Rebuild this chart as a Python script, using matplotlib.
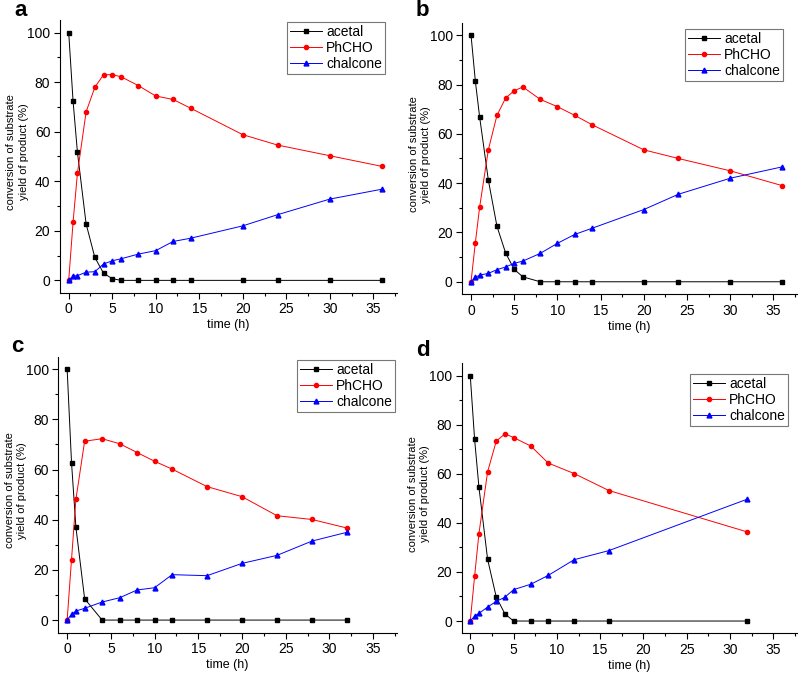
import matplotlib
matplotlib.use("Agg")
import matplotlib.pyplot as plt
from matplotlib.ticker import MultipleLocator

plt.rcParams['font.family'] = ['Liberation Sans', 'DejaVu Sans']

# panel a
time_a = [0, 0.5, 1, 2, 3, 4, 5, 6, 8, 10, 12, 14, 20, 24, 30, 36]
acetal_a = [100, 72.4, 51.8, 22.8, 9.3, 2.9, 0.7, 0, 0, 0, 0, 0, 0, 0, 0, 0]
phcho_a = [0, 23.4, 43.2, 68, 77.9, 83, 83, 82.2, 78.6, 74.4, 73, 69.5, 58.8, 54.6, 50.3, 46]
chalcone_a = [0, 1.7, 1.9, 3.3, 3.5, 6.6, 7.9, 8.7, 10.6, 12, 15.7, 17, 22, 26.5, 32.8, 36.8]

# panel b
time_b = [0, 0.5, 1, 2, 3, 4, 5, 6, 8, 10, 12, 14, 20, 24, 30, 36]
acetal_b = [100, 81.3, 66.7, 41.3, 22.5, 11.7, 5, 2, 0, 0, 0, 0, 0, 0, 0, 0]
phcho_b = [0, 15.9, 30.4, 53.5, 67.5, 74.5, 77.5, 79, 74, 71, 67.5, 63.7, 53.5, 50, 45, 39]
chalcone_b = [0, 1.8, 2.7, 3.4, 4.9, 6, 7.5, 8.4, 11.5, 15.6, 19.2, 21.7, 29.3, 35.5, 42, 46.6]

# panel c
time_c = [0, 0.5, 1, 2, 4, 6, 8, 10, 12, 16, 20, 24, 28, 32]
acetal_c = [100, 62.8, 37.1, 8.5, 0, 0, 0, 0, 0, 0, 0, 0, 0, 0]
phcho_c = [0, 24.1, 48.1, 71.3, 72.3, 70.3, 66.8, 63.3, 60.2, 53.2, 49.2, 41.6, 40.1, 36.7]
chalcone_c = [0, 2.3, 3.6, 4.7, 7.2, 8.9, 12, 12.9, 18.1, 17.7, 22.6, 25.8, 31.5, 35]

# panel d
time_d = [0, 0.5, 1, 2, 3, 4, 5, 7, 9, 12, 16, 32]
acetal_d = [100, 74.1, 54.6, 25.2, 9.8, 2.9, 0, 0, 0, 0, 0, 0]
phcho_d = [0, 18.2, 35.6, 60.8, 73.3, 76.3, 74.8, 71.3, 64.4, 60.1, 53.2, 36.3]
chalcone_d = [0, 2, 3.1, 5.7, 8, 9.7, 12.8, 15, 18.6, 25, 28.7, 49.7]

W, H = 800, 673

# letter, axes rect (fig fraction), letter pos (px), legend upper-right corner (px), data
panels = [
    ("a", [0.075, 0.565, 0.421, 0.405], (14, 10), (385, 22), time_a, acetal_a, phcho_a, chalcone_a),
    ("b", [0.578, 0.563, 0.418, 0.403], (416, 10), (783, 29), time_b, acetal_b, phcho_b, chalcone_b),
    ("c", [0.073, 0.060, 0.423, 0.410], (11, 347), (395, 360), time_c, acetal_c, phcho_c, chalcone_c),
    ("d", [0.577, 0.059, 0.419, 0.401], (416, 350), (788, 374), time_d, acetal_d, phcho_d, chalcone_d),
]

fig = plt.figure(figsize=(W / 100, H / 100), dpi=100)

for letter, rect, lpos, legpos, t, ac, ph, ch in panels:
    ax = fig.add_axes(rect)
    ax.plot(t, ac, color='black', lw=0.7, marker='s', ms=3, label='acetal')
    ax.plot(t, ph, color='red', lw=0.7, marker='o', ms=3, label='PhCHO')
    ax.plot(t, ch, color='blue', lw=0.7, marker='^', ms=3.5, label='chalcone')

    ax.set_xlim(-1, 37.7)
    ax.set_ylim(-5, 105)
    ax.xaxis.set_major_locator(MultipleLocator(5))
    ax.xaxis.set_minor_locator(MultipleLocator(2.5))
    ax.yaxis.set_major_locator(MultipleLocator(20))
    ax.yaxis.set_minor_locator(MultipleLocator(10))
    ax.tick_params(which='major', direction='out', length=4, width=0.8, labelsize=10, pad=3)
    ax.tick_params(which='minor', direction='out', length=2.5, width=0.8)
    ax.spines['top'].set_visible(False)
    ax.spines['right'].set_visible(False)

    ax.set_xlabel('time (h)', fontsize=9, labelpad=2)
    ax.set_ylabel('conversion of substrate\nyield of product (%)', fontsize=8,
                  linespacing=1.3)
    ax.yaxis.set_label_coords(-0.093, 0.516)

    leg = ax.legend(loc='upper right', fontsize=10, frameon=True, fancybox=False,
                    edgecolor='#555555', handlelength=2.3, handletextpad=0.3,
                    borderpad=0.2, labelspacing=0.15, borderaxespad=0,
                    bbox_to_anchor=(legpos[0] / W, 1 - legpos[1] / H),
                    bbox_transform=fig.transFigure)
    leg.get_frame().set_linewidth(0.8)

    fig.text(lpos[0] / W, 1 - lpos[1] / H, letter, fontsize=16, fontweight='bold',
             ha='left', va='center')

fig.savefig('out.png', dpi=100)
